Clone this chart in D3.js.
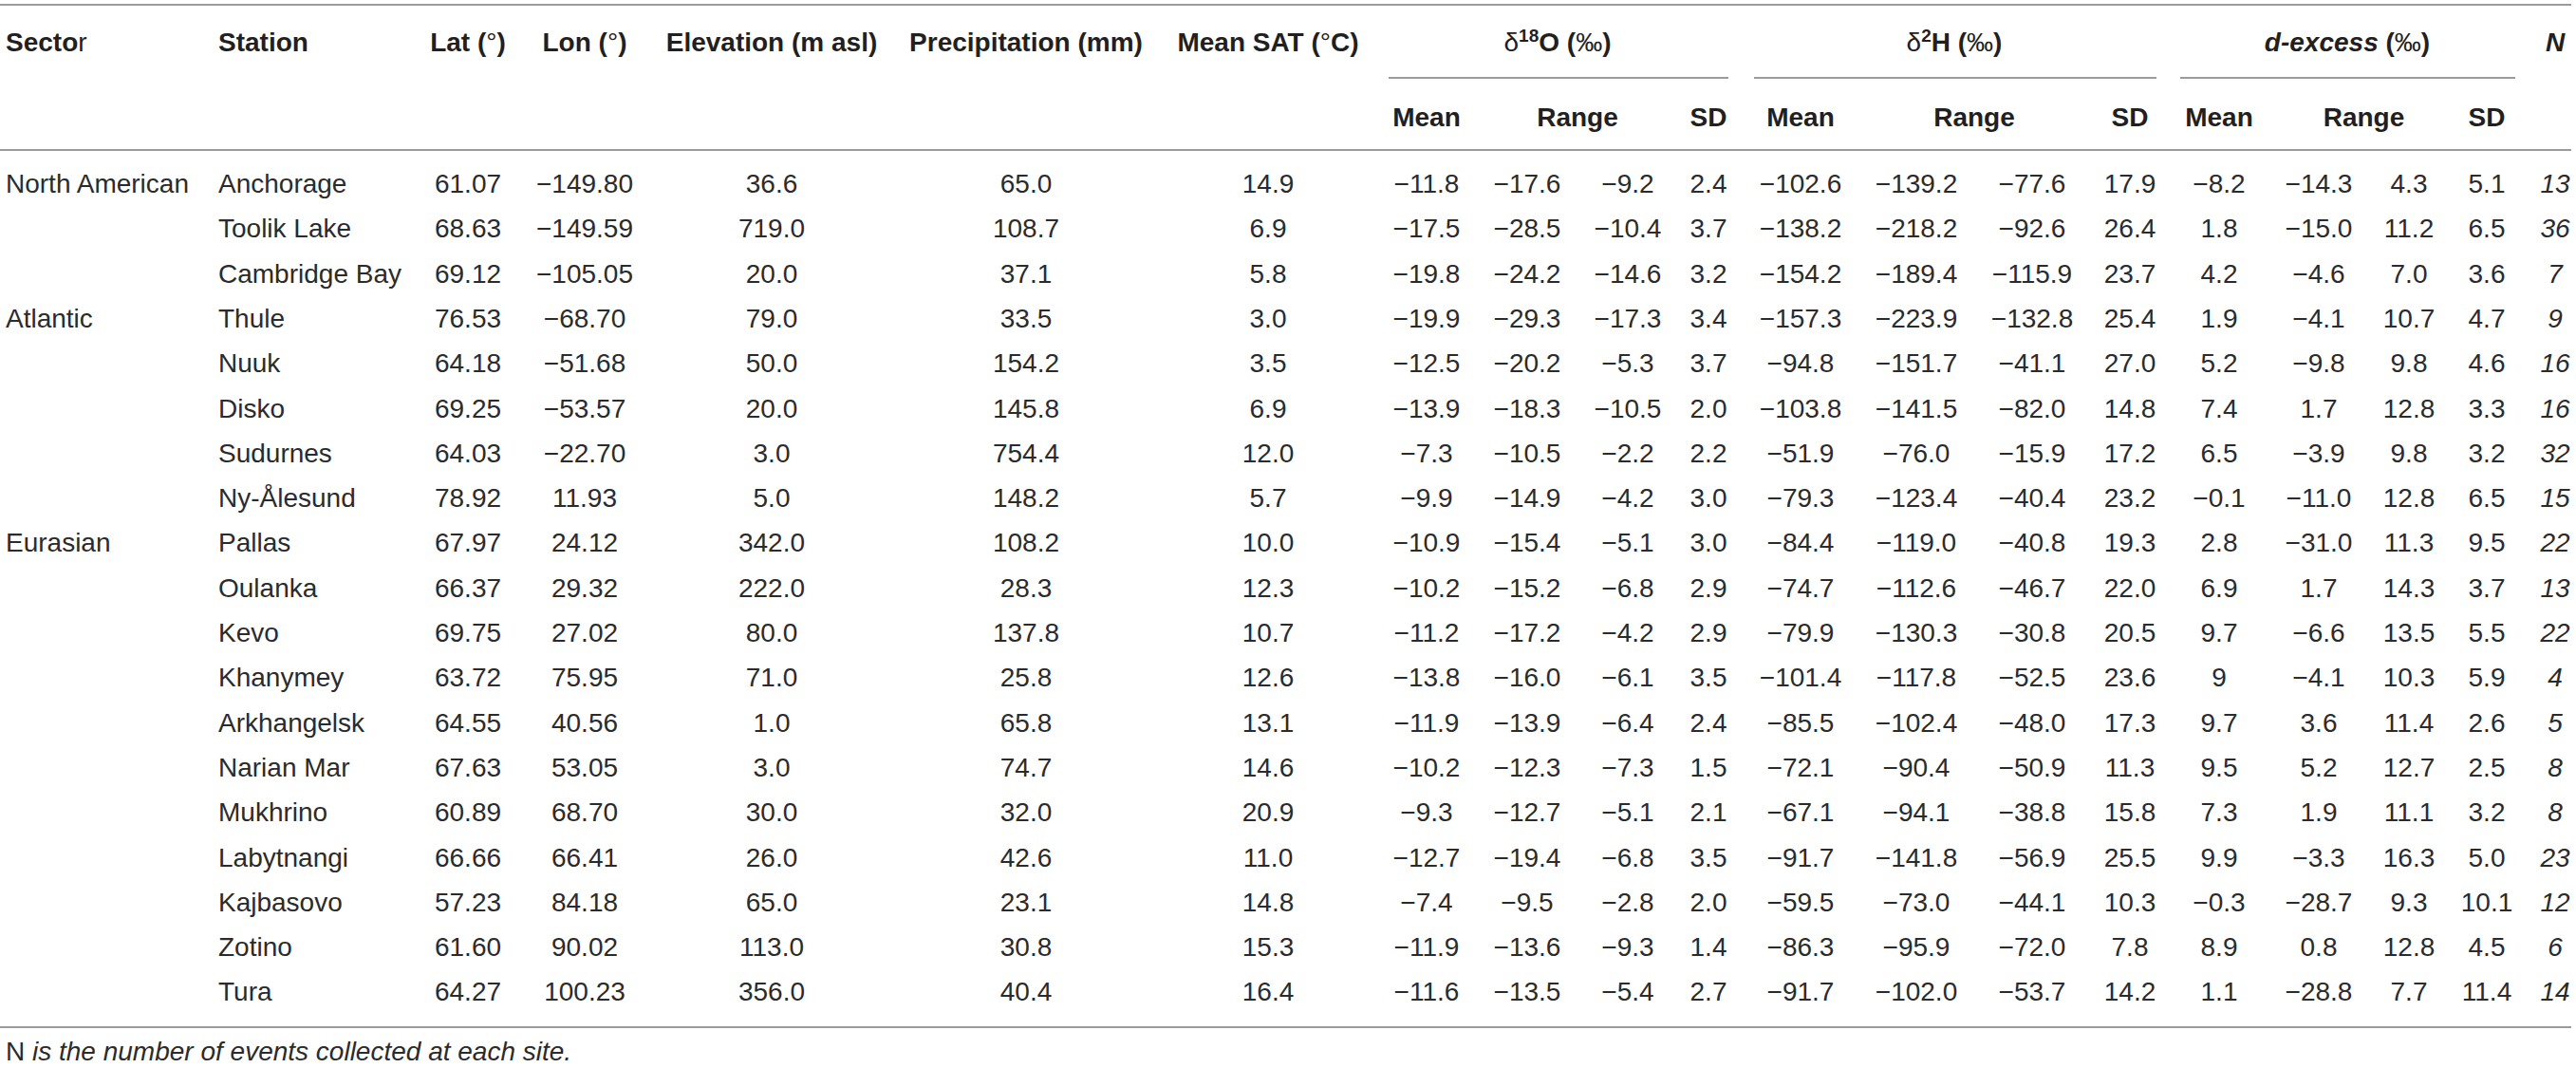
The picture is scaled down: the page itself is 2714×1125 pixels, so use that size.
<!DOCTYPE html>
<html>
<head>
<meta charset="utf-8">
<script src="https://cdn.jsdelivr.net/npm/d3@7"></script>
<style>
  html, body { margin: 0; padding: 0; background: #fff; }
  svg { display: block; }
  text { font-family: "Liberation Sans", Arial, Helvetica, sans-serif; fill: #231f20; }
</style>
</head>
<body>
<svg id="tbl" width="2714" height="1125"></svg>
<script>
// ---------------- DATA ----------------
const sectors = ["North American", "", "", "Atlantic", "", "", "", "", "Eurasian", "", "", "", "", "", "", "", "", "", ""];
const stations = ["Anchorage", "Toolik Lake", "Cambridge Bay", "Thule", "Nuuk", "Disko", "Sudurnes", "Ny-Ålesund",
  "Pallas", "Oulanka", "Kevo", "Khanymey", "Arkhangelsk", "Narian Mar", "Mukhrino", "Labytnangi", "Kajbasovo", "Zotino", "Tura"];
const lat = ["61.07", "68.63", "69.12", "76.53", "64.18", "69.25", "64.03", "78.92", "67.97", "66.37", "69.75", "63.72", "64.55", "67.63", "60.89", "66.66", "57.23", "61.60", "64.27"];
const lon = ["−149.80", "−149.59", "−105.05", "−68.70", "−51.68", "−53.57", "−22.70", "11.93", "24.12", "29.32", "27.02", "75.95", "40.56", "53.05", "68.70", "66.41", "84.18", "90.02", "100.23"];
const elevation = ["36.6", "719.0", "20.0", "79.0", "50.0", "20.0", "3.0", "5.0", "342.0", "222.0", "80.0", "71.0", "1.0", "3.0", "30.0", "26.0", "65.0", "113.0", "356.0"];
const precipitation = ["65.0", "108.7", "37.1", "33.5", "154.2", "145.8", "754.4", "148.2", "108.2", "28.3", "137.8", "25.8", "65.8", "74.7", "32.0", "42.6", "23.1", "30.8", "40.4"];
const meanSAT = ["14.9", "6.9", "5.8", "3.0", "3.5", "6.9", "12.0", "5.7", "10.0", "12.3", "10.7", "12.6", "13.1", "14.6", "20.9", "11.0", "14.8", "15.3", "16.4"];
const d18oMean = ["−11.8", "−17.5", "−19.8", "−19.9", "−12.5", "−13.9", "−7.3", "−9.9", "−10.9", "−10.2", "−11.2", "−13.8", "−11.9", "−10.2", "−9.3", "−12.7", "−7.4", "−11.9", "−11.6"];
const d18oMin = ["−17.6", "−28.5", "−24.2", "−29.3", "−20.2", "−18.3", "−10.5", "−14.9", "−15.4", "−15.2", "−17.2", "−16.0", "−13.9", "−12.3", "−12.7", "−19.4", "−9.5", "−13.6", "−13.5"];
const d18oMax = ["−9.2", "−10.4", "−14.6", "−17.3", "−5.3", "−10.5", "−2.2", "−4.2", "−5.1", "−6.8", "−4.2", "−6.1", "−6.4", "−7.3", "−5.1", "−6.8", "−2.8", "−9.3", "−5.4"];
const d18oSD = ["2.4", "3.7", "3.2", "3.4", "3.7", "2.0", "2.2", "3.0", "3.0", "2.9", "2.9", "3.5", "2.4", "1.5", "2.1", "3.5", "2.0", "1.4", "2.7"];
const d2hMean = ["−102.6", "−138.2", "−154.2", "−157.3", "−94.8", "−103.8", "−51.9", "−79.3", "−84.4", "−74.7", "−79.9", "−101.4", "−85.5", "−72.1", "−67.1", "−91.7", "−59.5", "−86.3", "−91.7"];
const d2hMin = ["−139.2", "−218.2", "−189.4", "−223.9", "−151.7", "−141.5", "−76.0", "−123.4", "−119.0", "−112.6", "−130.3", "−117.8", "−102.4", "−90.4", "−94.1", "−141.8", "−73.0", "−95.9", "−102.0"];
const d2hMax = ["−77.6", "−92.6", "−115.9", "−132.8", "−41.1", "−82.0", "−15.9", "−40.4", "−40.8", "−46.7", "−30.8", "−52.5", "−48.0", "−50.9", "−38.8", "−56.9", "−44.1", "−72.0", "−53.7"];
const d2hSD = ["17.9", "26.4", "23.7", "25.4", "27.0", "14.8", "17.2", "23.2", "19.3", "22.0", "20.5", "23.6", "17.3", "11.3", "15.8", "25.5", "10.3", "7.8", "14.2"];
const dxsMean = ["−8.2", "1.8", "4.2", "1.9", "5.2", "7.4", "6.5", "−0.1", "2.8", "6.9", "9.7", "9", "9.7", "9.5", "7.3", "9.9", "−0.3", "8.9", "1.1"];
const dxsMin = ["−14.3", "−15.0", "−4.6", "−4.1", "−9.8", "1.7", "−3.9", "−11.0", "−31.0", "1.7", "−6.6", "−4.1", "3.6", "5.2", "1.9", "−3.3", "−28.7", "0.8", "−28.8"];
const dxsMax = ["4.3", "11.2", "7.0", "10.7", "9.8", "12.8", "9.8", "12.8", "11.3", "14.3", "13.5", "10.3", "11.4", "12.7", "11.1", "16.3", "9.3", "12.8", "7.7"];
const dxsSD = ["5.1", "6.5", "3.6", "4.7", "4.6", "3.3", "3.2", "6.5", "9.5", "3.7", "5.5", "5.9", "2.6", "2.5", "3.2", "5.0", "10.1", "4.5", "11.4"];
const nEvents = ["13", "36", "7", "9", "16", "16", "32", "15", "22", "13", "22", "4", "5", "8", "8", "23", "12", "6", "14"];

const footnote = " is the number of events collected at each site.";

// ---------------- LAYOUT ----------------
const W = 2714, H = 1125;
const FS = 28;
const svg = d3.select("#tbl");
svg.append("rect").attr("width", W).attr("height", H).attr("fill", "#fff");

const columns = [
  { key: "sector", values: sectors, x: 6, anchor: "start" },
  { key: "station", values: stations, x: 230, anchor: "start" },
  { key: "lat", values: lat, x: 493 },
  { key: "lon", values: lon, x: 616 },
  { key: "elev", values: elevation, x: 813 },
  { key: "precip", values: precipitation, x: 1081 },
  { key: "sat", values: meanSAT, x: 1336 },
  { key: "oMean", values: d18oMean, x: 1503 },
  { key: "oMin", values: d18oMin, x: 1609 },
  { key: "oMax", values: d18oMax, x: 1715 },
  { key: "oSD", values: d18oSD, x: 1800 },
  { key: "hMean", values: d2hMean, x: 1897 },
  { key: "hMin", values: d2hMin, x: 2019 },
  { key: "hMax", values: d2hMax, x: 2141 },
  { key: "hSD", values: d2hSD, x: 2244 },
  { key: "dMean", values: dxsMean, x: 2338 },
  { key: "dMin", values: dxsMin, x: 2443 },
  { key: "dMax", values: dxsMax, x: 2538 },
  { key: "dSD", values: dxsSD, x: 2620 },
  { key: "n", values: nEvents, x: 2692, italic: true }
];

const xCol = d3.scaleOrdinal().domain(columns.map(c => c.key)).range(columns.map(c => c.x));
const nRows = stations.length;
const yRow = d3.scaleLinear().domain([0, nRows - 1]).range([203, 1054.4]);

const ruleColor = "#9b9b9b";
function rule(x1, x2, y) {
  svg.append("line").attr("x1", x1).attr("x2", x2).attr("y1", y).attr("y2", y)
    .attr("stroke", ruleColor).attr("stroke-width", 2);
}

// rules
rule(0, 2709, 5);
rule(0, 2709, 158);
rule(0, 2709, 1082);
rule(1463, 1821, 82);
rule(1848, 2272, 82);
rule(2297, 2650, 82);

// ---------------- HEADER ----------------
const hy1 = 54, hy2 = 133;
function headerText(x, y, parts, anchor) {
  const t = svg.append("text").attr("x", x).attr("y", y)
    .attr("font-size", FS).attr("text-anchor", anchor || "middle");
  parts.forEach(p => {
    const ts = t.append("tspan").text(p.t)
      .attr("font-weight", p.w || "bold")
      .attr("font-style", p.i ? "italic" : "normal");
    if (p.sup) ts.attr("font-size", 19).attr("baseline-shift", "super");
  });
  return t;
}
headerText(6, hy1, [{ t: "Secto" }, { t: "r", w: "normal" }], "start");
headerText(230, hy1, [{ t: "Station" }], "start");
headerText(xCol("lat"), hy1, [{ t: "Lat (" }, { t: "°", w: "normal" }, { t: ")" }]);
headerText(xCol("lon"), hy1, [{ t: "Lon (" }, { t: "°", w: "normal" }, { t: ")" }]);
headerText(xCol("elev"), hy1, [{ t: "Elevation (m asl)" }]);
headerText(xCol("precip"), hy1, [{ t: "Precipitation (mm)" }]);
headerText(xCol("sat"), hy1, [{ t: "Mean SAT (" }, { t: "°", w: "normal" }, { t: "C)" }]);
headerText(1641, hy1, [{ t: "δ", w: "normal" }, { t: "18", sup: true }, { t: "O (" }, { t: "‰", w: "normal" }, { t: ")" }]);
headerText(2059, hy1, [{ t: "δ", w: "normal" }, { t: "2", sup: true }, { t: "H (" }, { t: "‰", w: "normal" }, { t: ")" }]);
headerText(2473, hy1, [{ t: "d-excess", i: true }, { t: " (" }, { t: "‰", w: "normal" }, { t: ")" }]);
headerText(xCol("n"), hy1, [{ t: "N", i: true }]);

const subGroups = [
  { mean: "oMean", min: "oMin", max: "oMax", sd: "oSD" },
  { mean: "hMean", min: "hMin", max: "hMax", sd: "hSD" },
  { mean: "dMean", min: "dMin", max: "dMax", sd: "dSD" }
];
subGroups.forEach(g => {
  headerText(xCol(g.mean), hy2, [{ t: "Mean" }]);
  headerText((xCol(g.min) + xCol(g.max)) / 2, hy2, [{ t: "Range" }]);
  headerText(xCol(g.sd), hy2, [{ t: "SD" }]);
});

// ---------------- BODY ----------------
columns.forEach(c => {
  svg.append("g").selectAll("text").data(c.values).join("text")
    .attr("x", xCol(c.key))
    .attr("y", (d, i) => yRow(i))
    .attr("font-size", FS)
    .attr("text-anchor", c.anchor || "middle")
    .attr("font-style", c.italic ? "italic" : "normal")
    .style("fill", "#2b2b2b")
    .text(d => d);
});

// ---------------- FOOTNOTE ----------------
const fn = svg.append("text").attr("x", 6).attr("y", 1117).attr("font-size", FS).style("fill", "#2b2b2b");
fn.append("tspan").text("N");
fn.append("tspan").attr("font-style", "italic").text(footnote);
</script>
</body>
</html>
